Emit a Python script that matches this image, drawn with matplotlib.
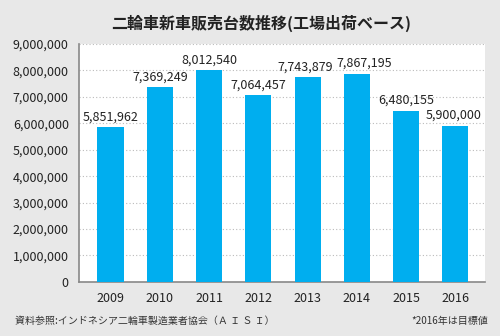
import matplotlib.pyplot as plt
from matplotlib.ticker import FuncFormatter

plt.rcParams['font.family'] = ['Noto Sans CJK JP', 'DejaVu Sans']

# データ
years = ['2009', '2010', '2011', '2012', '2013', '2014', '2015', '2016']
sales = [5851962, 7369249, 8012540, 7064457, 7743879, 7867195, 6480155, 5900000]
# ラベルの横ずらし（重なり防止）
label_shift = [0, 0, 0, 0, -0.05, 0.15, 0, -0.04]

bg = '#e8e8e8'
bar_color = '#00aeef'

fig = plt.figure(figsize=(5, 3.36), dpi=100, facecolor=bg)
ax = fig.add_axes([0.157, 0.161, 0.813, 0.708])
ax.set_facecolor('white')

x = range(len(years))
ax.bar(x, sales, width=0.53, color=bar_color, zorder=3)

# 値ラベル
for xi, v, dx in zip(x, sales, label_shift):
    ax.text(xi + dx, v + 150000, f'{v:,}', ha='center', va='bottom', fontsize=9,
            color='#222222')

ax.set_xlim(-0.65, 7.6)
ax.set_ylim(0, 9000000)
ax.set_yticks(range(0, 9000001, 1000000))
ax.yaxis.set_major_formatter(FuncFormatter(lambda v, p: f'{int(v):,}'))
ax.set_xticks(list(x))
ax.set_xticklabels(years)

ax.grid(axis='y', color='#bbbbbb', linestyle=(0, (1, 2)), linewidth=0.8, zorder=0)
for s in ['top', 'right']:
    ax.spines[s].set_visible(False)
ax.spines['left'].set_color('#888888')
ax.spines['bottom'].set_color('#888888')
ax.spines['left'].set_linewidth(1.2)
ax.spines['bottom'].set_linewidth(1.2)
ax.tick_params(axis='both', length=0, labelsize=9, colors='#222222')
ax.tick_params(axis='y', pad=7)
ax.tick_params(axis='x', pad=7)

fig.text(0.523, 0.93, '二輪車新車販売台数推移(工場出荷ベース)', ha='center', va='center',
         fontsize=11.5, fontweight='bold', color='#222222')
fig.text(0.03, 0.045, '資料参照:インドネシア二輪車製造業者協会（Ａ Ｉ Ｓ Ｉ）', ha='left', va='center',
         fontsize=7.2, color='#333333')
fig.text(0.977, 0.045, '*2016年は目標値', ha='right', va='center', fontsize=7.2, color='#333333')

fig.savefig('out.png', dpi=100, facecolor=bg)
